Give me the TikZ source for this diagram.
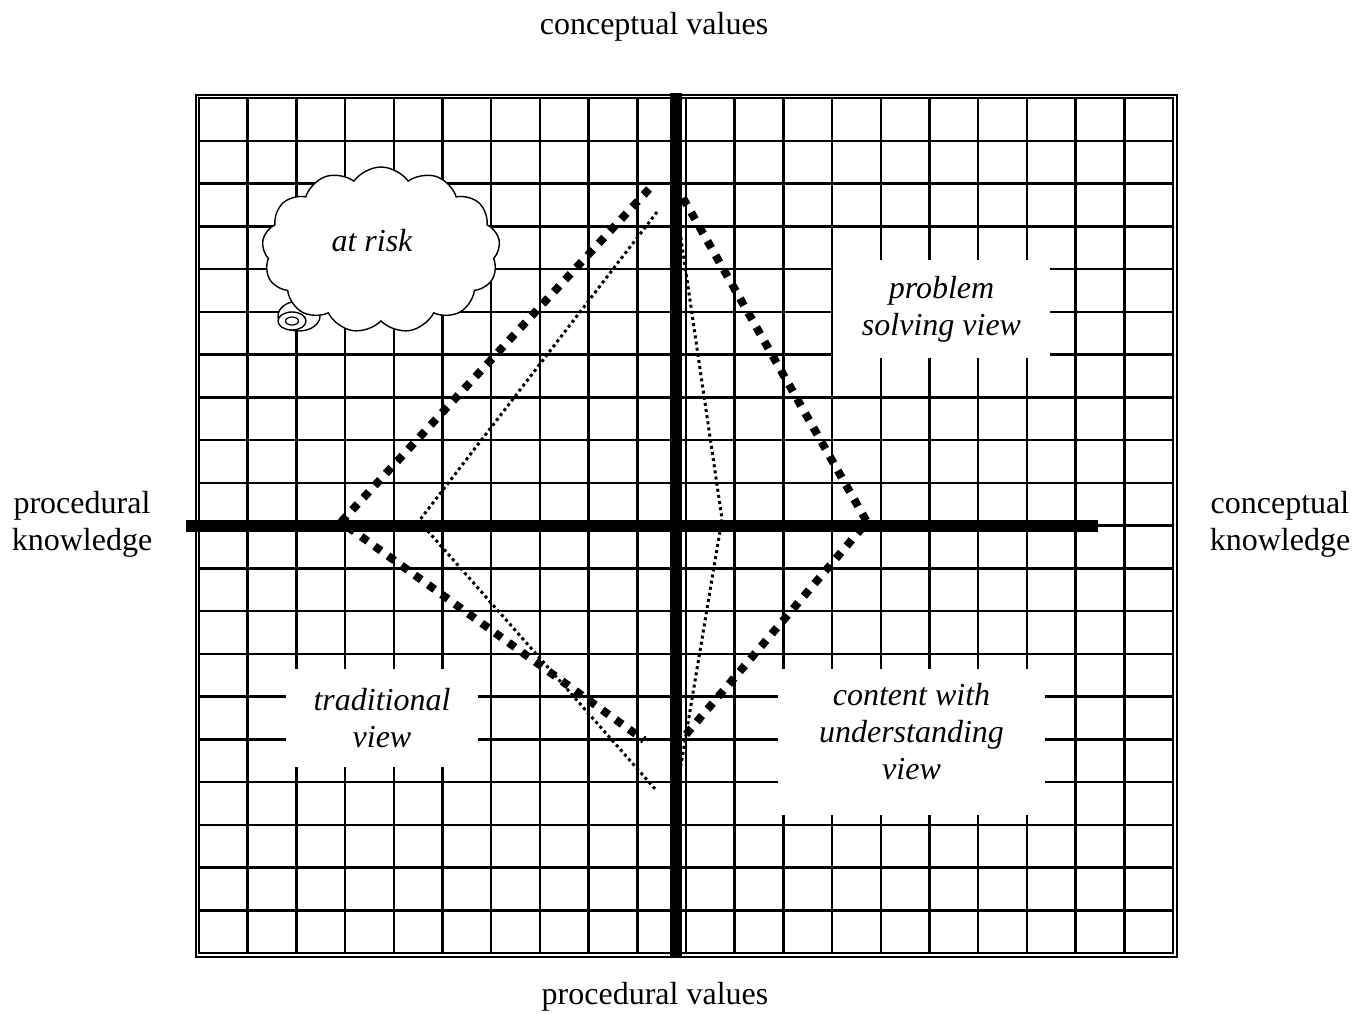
\documentclass[tikz,border=0pt]{standalone}
\usepackage{fontspec}
\setmainfont{Liberation Serif}
\usepackage{tikz}
\usetikzlibrary{shapes.symbols}
\newcommand{\viewbox}[3]{%
  \node[fill=white,inner sep=0pt,align=center,
        font=\itshape\fontsize{32}{37}\selectfont,#3] (#1) {#2};}

\begin{document}
\begin{tikzpicture}[x=1pt,y=-1pt,
  every node/.style={font=\fontsize{32}{37}\selectfont},
  gridline/.style={line width=2.5pt},
  axisline/.style={line width=12.5pt},
  bigdots/.style={line width=8pt,dash pattern=on 8pt off 8.5pt},
  smalldots/.style={line width=3pt,dash pattern=on 3pt off 3.2pt}]
  \useasboundingbox (0,0) rectangle (1354,1013);
  \draw[line width=1.5pt] (196,95) rectangle (1177,957);
  \draw[gridline] (199,98) rectangle (1173,953);
  \foreach \i in {1,...,19} {
    \draw[gridline] ({199+48.7*\i},98) -- ({199+48.7*\i},953);
    \draw[gridline] (199,{98+42.75*\i}) -- (1173,{98+42.75*\i});
  }
  \viewbox{problem}{problem\\solving view}{minimum width=217,minimum height=98,at={(941.5,309)}}
  \viewbox{traditional}{traditional\\view}{minimum width=192,minimum height=98,at={(382,718)}}
  \viewbox{content}{content with\\understanding\\view\rule[-21pt]{0pt}{1pt}}{minimum width=267,minimum height=146,at={(911.5,742)}}
  \draw[line width=1.4pt,fill=white] (299,316) ellipse [x radius=21,y radius=15];
  \node[cloud,draw,fill=white,line width=1.4pt,cloud puffs=13,cloud puff arc=110,aspect=1.45,
        minimum width=238,minimum height=166,inner sep=0pt] (risk) at (381,250) {};
  \node (risklabel) at (372,241) {\itshape at risk};
  \draw[line width=1.4pt,fill=white] (292,321) ellipse [x radius=14,y radius=9];
  \draw[line width=1.2pt] (292,321) ellipse [x radius=6.5,y radius=4];
  \coordinate (wideTopL) at (649,189);
  \coordinate (wideLeft) at (341,522);
  \coordinate (wideBotL) at (644,740);
  \coordinate (wideTopR) at (683,198);
  \coordinate (wideRight) at (867,522);
  \coordinate (wideBotR) at (683,738);
  \coordinate (slimTopL) at (657,212);
  \coordinate (slimLeft) at (419,521);
  \coordinate (slimBotL) at (656,790);
  \coordinate (slimTopR) at (679,225);
  \coordinate (slimRight) at (722,519);
  \coordinate (slimBotR) at (681,765);
  \draw[bigdots] (wideTopL) -- (wideLeft) -- (wideBotL);
  \draw[bigdots] (wideTopR) -- (wideRight) -- (wideBotR);
  \draw[smalldots] (slimTopL) -- (slimLeft) -- (slimBotL);
  \draw[smalldots] (slimTopR) -- (slimRight) -- (slimBotR);
  \draw[axisline] (186,526) -- (1098,526);
  \draw[axisline] (676,93) -- (676,958);
  \node (cvalues) at (654,27) {conceptual values};
  \node (pvalues) at (655,997) {procedural values};
  \node[align=center] (pknow) at (82,524) {procedural\\knowledge};
  \node[align=center] (cknow) at (1280,524) {conceptual\\knowledge};
\end{tikzpicture}
\end{document}
